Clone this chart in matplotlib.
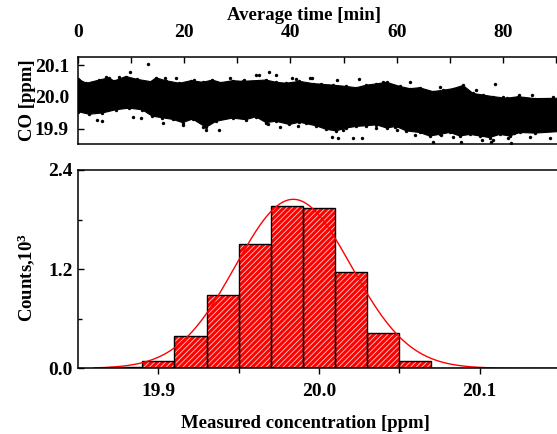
import numpy as np
import matplotlib
matplotlib.use("Agg")
import matplotlib.pyplot as plt

plt.rcParams['font.family'] = ['Liberation Serif', 'DejaVu Serif']
plt.rcParams['font.weight'] = 'bold'
plt.rcParams['mathtext.fontset'] = 'custom'
plt.rcParams['mathtext.rm'] = 'Liberation Serif:bold'
plt.rcParams['mathtext.bf'] = 'Liberation Serif:bold'
plt.rcParams['mathtext.default'] = 'bf'
plt.rcParams['hatch.linewidth'] = 0.6

# --- time series (top panel): edges of the dense point cloud ---
upper_t = [0.0, 1.6, 4.0, 5.8, 6.8, 9.0, 11.2, 13.7, 14.7, 16.5, 19.1, 21.3, 23.5, 25.3,
           26.9, 29.1, 31.0, 35.4, 37.3, 39.2, 41.7, 44.2, 45.8, 48.0, 50.5, 52.4, 54.3,
           56.2, 58.1, 60.6, 62.5, 64.3, 66.8, 68.7, 70.6, 72.5, 74.4, 76.3, 78.2, 80.7,
           82.9, 86.0, 90.75]
upper_v = [20.056, 20.043, 20.053, 20.060, 20.050, 20.064, 20.055, 20.048, 20.060, 20.051,
           20.043, 20.051, 20.046, 20.053, 20.045, 20.051, 20.049, 20.053, 20.046, 20.043,
           20.049, 20.042, 20.040, 20.037, 20.033, 20.029, 20.037, 20.041, 20.046, 20.033,
           20.026, 20.029, 20.017, 20.021, 20.026, 20.036, 20.011, 20.006, 20.001, 19.996,
           20.001, 19.995, 19.996]
lower_t = [0.0, 2.1, 4.6, 7.1, 9.6, 12.1, 14.0, 15.9, 17.8, 19.7, 21.6, 24.1, 26.0, 29.1,
           31.6, 33.5, 35.4, 37.3, 39.8, 41.7, 44.8, 46.7, 48.6, 50.5, 52.4, 54.3, 56.2,
           58.1, 59.9, 61.8, 64.3, 66.2, 68.1, 70.0, 71.9, 73.8, 75.7, 77.5, 79.4, 81.3,
           83.2, 86.0, 90.75]
lower_v = [19.954, 19.946, 19.950, 19.960, 19.965, 19.960, 19.940, 19.935, 19.930, 19.920,
           19.931, 19.905, 19.924, 19.934, 19.929, 19.938, 19.920, 19.924, 19.914, 19.921,
           19.910, 19.899, 19.894, 19.903, 19.908, 19.910, 19.913, 19.903, 19.908, 19.894,
           19.889, 19.878, 19.883, 19.889, 19.878, 19.883, 19.878, 19.873, 19.883, 19.878,
           19.889, 19.887, 19.892]

# scattered points outside the dense cloud
out_t = [13.2, 9.7, 7.7, 4.5, 11.8, 16.0, 18.4, 21.8, 0.2, 5.3, 16.3, 28.6,
         36.0, 37.3, 33.5, 41.0, 43.7, 26.6, 23.5, 41.4, 35.7, 31.3, 40.3, 34.1,
         52.9, 62.5, 51.8, 53.4, 49.9, 59.7, 64.7, 44.0, 45.5, 47.8, 49.0, 48.7,
         57.5, 60.0, 63.5, 66.9, 56.2, 53.1, 38.0, 43.0, 3.5, 10.4, 24.1, 19.8,
         78.5, 68.1, 72.2, 68.4, 77.8, 85.1, 88.9, 81.6, 75.0, 85.4, 89.5, 72.6,
         80.0, 83.0, 76.0, 78.2, 81.0, 82.0, 70.6, 73.8]
out_v = [20.102, 20.079, 20.064, 19.926, 19.935, 19.918, 20.060, 20.053, 20.053, 20.063, 20.060, 20.058,
         20.077, 20.069, 20.069, 20.056, 20.058, 19.897, 19.907, 19.910, 19.915, 20.053, 20.058, 20.069,
         20.055, 20.048, 19.873, 19.871, 19.897, 19.907, 19.897, 20.058, 20.037, 19.876, 19.872, 20.053,
         20.048, 19.897, 19.881, 19.860, 19.902, 19.928, 19.907, 19.918, 19.928, 19.938, 19.897, 19.913,
         20.040, 20.032, 19.858, 19.881, 19.858, 19.876, 19.871, 19.855, 20.022, 20.006, 20.001, 20.022,
         20.001, 20.006, 19.866, 19.866, 19.872, 19.887, 19.876, 19.887]

# --- histogram (bottom panel), counts in 10^3 ---
bin_edges = [19.87, 19.89, 19.91, 19.93, 19.95, 19.97, 19.99, 20.01, 20.03, 20.05, 20.07, 20.09]
counts = [0.016, 0.089, 0.395, 0.887, 1.50, 1.96, 1.944, 1.162, 0.424, 0.089, 0.008]

# gaussian fit parameters
fit_center = 19.984
fit_sigma = 0.036
fit_amp = 2.045

W, H = 557, 434
fig = plt.figure(figsize=(W / 100, H / 100), dpi=100)

def px_axes(left, top, right, bottom):
    return fig.add_axes([left / W, 1 - bottom / H, (right - left) / W, (bottom - top) / H])

ax1 = px_axes(78, 56.7, 560, 144.3)
ax2 = px_axes(78, 170, 560, 368.3)

# Panel 1: time series
ax1.fill(upper_t + lower_t[::-1], upper_v + lower_v[::-1], color='black', linewidth=0.8)
ax1.scatter(upper_t + lower_t, upper_v + lower_v, s=6, color='black', linewidths=0)
ax1.scatter(out_t, out_v, s=6, color='black', linewidths=0)
ax1.set_xlim(0, 90.75)
ax1.set_ylim(19.852, 20.126)
ax1.xaxis.tick_top()
ax1.xaxis.set_label_position('top')
ax1.set_xticks([0, 20, 40, 60, 80])
ax1.set_xticks([10, 30, 50, 70, 90], minor=True)
ax1.set_yticks([19.9, 20.0, 20.1])
ax1.set_yticklabels(['19.9', '20.0', '20.1'])
ax1.tick_params(axis='x', which='both', direction='in', length=4.5, width=1.0, labelsize=14, pad=11)
ax1.tick_params(axis='y', direction='in', length=4, width=1.0, labelsize=14, pad=6.5)
ax1.set_xlabel('Average time [min]', fontsize=13.5, fontweight='bold')
ax1.xaxis.set_label_coords((304 - 78) / 482, 1 + (56.7 - 15) / 87.6)
ax1.xaxis.label.set_va('center')
ax1.set_ylabel('CO [ppm]', fontsize=13.5, fontweight='bold')
ax1.yaxis.set_label_coords((27 - 78) / 482, 0.5)
ax1.yaxis.label.set_va('center')

# Panel 2: histogram with gaussian fit
lefts = bin_edges[:-1]
widths = np.diff(bin_edges)
ax2.bar(lefts, counts, width=widths, align='edge', color='#ff0000', edgecolor='#ffd0d0',
        hatch='//////', linewidth=0)
ax2.bar(lefts, counts, width=widths, align='edge', fill=False, edgecolor='black', linewidth=1.0)
xs = np.linspace(19.86, 20.15, 300)
ax2.plot(xs, fit_amp * np.exp(-(xs - fit_center) ** 2 / (2 * fit_sigma ** 2)), color='#ff0000', lw=1.0)
ax2.set_xlim(19.85, 20.15)
ax2.set_ylim(0, 2.4)
ax2.set_xticks([19.9, 20.0, 20.1])
ax2.set_xticks([19.95, 20.05], minor=True)
ax2.set_yticks([0.0, 1.2, 2.4])
ax2.set_yticks([0.6, 1.8], minor=True)
ax2.tick_params(axis='x', which='major', direction='out', length=4.5, width=1.0, labelsize=14, pad=6)
ax2.tick_params(axis='x', which='minor', direction='out', length=3.5, width=1.0)
ax2.tick_params(axis='y', which='major', direction='in', length=4, width=1.0, labelsize=14, pad=4)
ax2.tick_params(axis='y', which='minor', direction='in', length=3, width=1.0)
ax2.set_xlabel('Measured concentration [ppm]', fontsize=13.5, fontweight='bold')
ax2.xaxis.set_label_coords((305 - 78) / 482, (368.3 - 423) / 198.3)
ax2.xaxis.label.set_va('center')
ax2.set_ylabel('Counts,10$^3$', fontsize=13.5, fontweight='bold')
ax2.yaxis.set_label_coords((26 - 78) / 482, (368.3 - 277) / 198.3)
ax2.yaxis.label.set_va('center')

for ax in (ax1, ax2):
    for sp in ax.spines.values():
        sp.set_linewidth(1.1)

fig.savefig('out.png', dpi=100)
